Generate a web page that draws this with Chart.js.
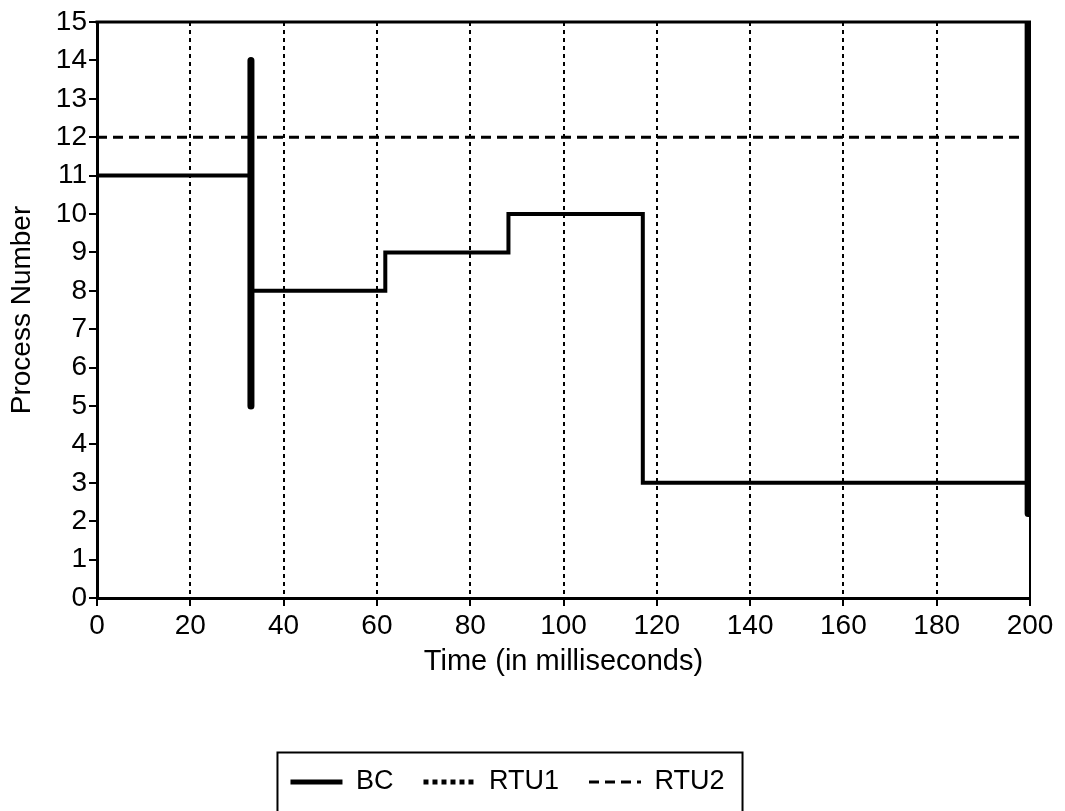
<!DOCTYPE html>
<html>
<head>
<meta charset="utf-8">
<script src="https://cdn.jsdelivr.net/npm/chart.js@4"></script>
<style>
	body { margin: 0; background: #fff; }
	canvas { display: block; }
</style>
</head>
<body>
<canvas id="chart" width="1065" height="811"></canvas>
<script>
// BC steps (time in ms, process number)
const bcTime = [0, 33, 33, 61.8, 61.8, 88.2, 88.2, 117, 117, 199.6];
const bcProcess = [11, 11, 8, 8, 9, 9, 10, 10, 3, 3];
// the two short bursts drawn heavier
const burstTime = [33, 33, 120, 199.6, 199.6];
const burstProcess = [14, 5, null, 15, 2.2];
const rtu1Time = [];
const rtu1Process = [];
const rtu2Time = [0, 200];
const rtu2Process = [12, 12];
const xTicks = [0, 20, 40, 60, 80, 100, 120, 140, 160, 180, 200];
const yTicks = [0, 1, 2, 3, 4, 5, 6, 7, 8, 9, 10, 11, 12, 13, 14, 15];

const toPoints = (xs, ys) => xs.map((x, i) => ({ x: x, y: ys[i] }));

Chart.defaults.font.family = '"Liberation Sans", Arial, sans-serif';
Chart.defaults.color = '#000';

// solid top / right edge of the plot frame
const frame = {
	id: 'frame',
	beforeDatasetsDraw(chart) {
		const { ctx, chartArea: a } = chart;
		ctx.save();
		ctx.strokeStyle = '#000';
		ctx.lineWidth = 3;
		ctx.beginPath();
		ctx.moveTo(a.left - 1.5, a.top);
		ctx.lineTo(a.right + 1, a.top);
		ctx.stroke();
		ctx.lineWidth = 2;
		ctx.beginPath();
		ctx.moveTo(a.right, a.top);
		ctx.lineTo(a.right, a.bottom);
		ctx.stroke();
		ctx.restore();
	},
};

// box round the legend
const legendBox = {
	id: 'legendBox',
	afterDraw(chart) {
		const boxes = chart.legend.legendHitBoxes;
		if (!boxes || !boxes.length) return;
		const left = Math.min(...boxes.map((b) => b.left)) - 13;
		const right = Math.max(...boxes.map((b) => b.left + b.width)) + 18;
		const top = boxes[0].top - 16;
		const { ctx } = chart;
		ctx.save();
		ctx.strokeStyle = '#000';
		ctx.lineWidth = 2;
		ctx.strokeRect(left, top, right - left, chart.height + 10 - top);
		ctx.restore();
	},
};

const legendLabels = (chart) =>
	chart.data.datasets
		.map((ds, i) => ({
			text: ds.label,
			datasetIndex: i,
			fillStyle: '#000',
			strokeStyle: '#000',
			lineWidth: ds.legendWidth,
			lineDash: ds.borderDash || [],
			lineCap: 'butt',
			pointStyle: 'line',
			hidden: false,
			fontColor: '#000',
		}))
		.filter((item) => item.text !== 'burst');

new Chart(document.getElementById('chart'), {
	type: 'line',
	data: {
		datasets: [
			{
				label: 'BC',
				data: toPoints(bcTime, bcProcess),
				borderColor: '#000',
				borderWidth: 4,
				legendWidth: 5,
				pointRadius: 0,
				borderJoinStyle: 'miter',
			},
			{
				label: 'RTU1',
				data: toPoints(rtu1Time, rtu1Process),
				borderColor: '#000',
				borderWidth: 4,
				legendWidth: 5,
				borderDash: [5, 4],
				pointRadius: 0,
			},
			{
				label: 'RTU2',
				data: toPoints(rtu2Time, rtu2Process),
				borderColor: '#000',
				borderWidth: 3,
				legendWidth: 3,
				borderDash: [10, 6],
				pointRadius: 0,
			},
			{
				label: 'burst',
				data: toPoints(burstTime, burstProcess),
				borderColor: '#000',
				borderWidth: 7,
				borderCapStyle: 'round',
				pointRadius: 0,
				spanGaps: false,
			},
		],
	},
	options: {
		responsive: false,
		animation: false,
		layout: { padding: { top: 22, left: -15, right: 35, bottom: 5.5 } },
		plugins: {
			tooltip: { enabled: false },
			legend: {
				position: 'bottom',
				labels: {
					generateLabels: legendLabels,
					usePointStyle: true,
					pointStyleWidth: 52,
					padding: 30,
					font: { size: 27 },
					color: '#000',
				},
			},
		},
		scales: {
			x: {
				type: 'linear',
				min: 0,
				max: 200,
				afterBuildTicks: (scale) => {
					scale.ticks = xTicks.map((v) => ({ value: v }));
				},
				afterFit: (scale) => {
					scale.height = 140.5;
				},
				ticks: { font: { size: 28 }, padding: 3, maxRotation: 0 },
				grid: {
					color: '#000',
					lineWidth: 2,
					tickLength: 8,
					tickColor: '#000',
					tickWidth: 2,
					tickBorderDash: [],
				},
				border: { display: true, color: '#000', width: 3, dash: [4, 4] },
				title: {
					display: true,
					text: 'Time (in milliseconds)',
					font: { size: 29 },
					padding: { top: 4, bottom: 59 },
				},
			},
			y: {
				min: 0,
				max: 15,
				afterBuildTicks: (scale) => {
					scale.ticks = yTicks.map((v) => ({ value: v }));
				},
				afterFit: (scale) => {
					scale.width = 112;
				},
				ticks: { font: { size: 28 }, padding: 2 },
				grid: {
					drawOnChartArea: false,
					lineWidth: 0,
					tickLength: 8,
					tickColor: '#000',
					tickWidth: 2,
				},
				border: { display: true, color: '#000', width: 3 },
				title: {
					display: true,
					text: 'Process Number',
					font: { size: 28 },
					padding: { top: 20, bottom: 0 },
				},
			},
		},
	},
	plugins: [frame, legendBox],
});
</script>
</body>
</html>
